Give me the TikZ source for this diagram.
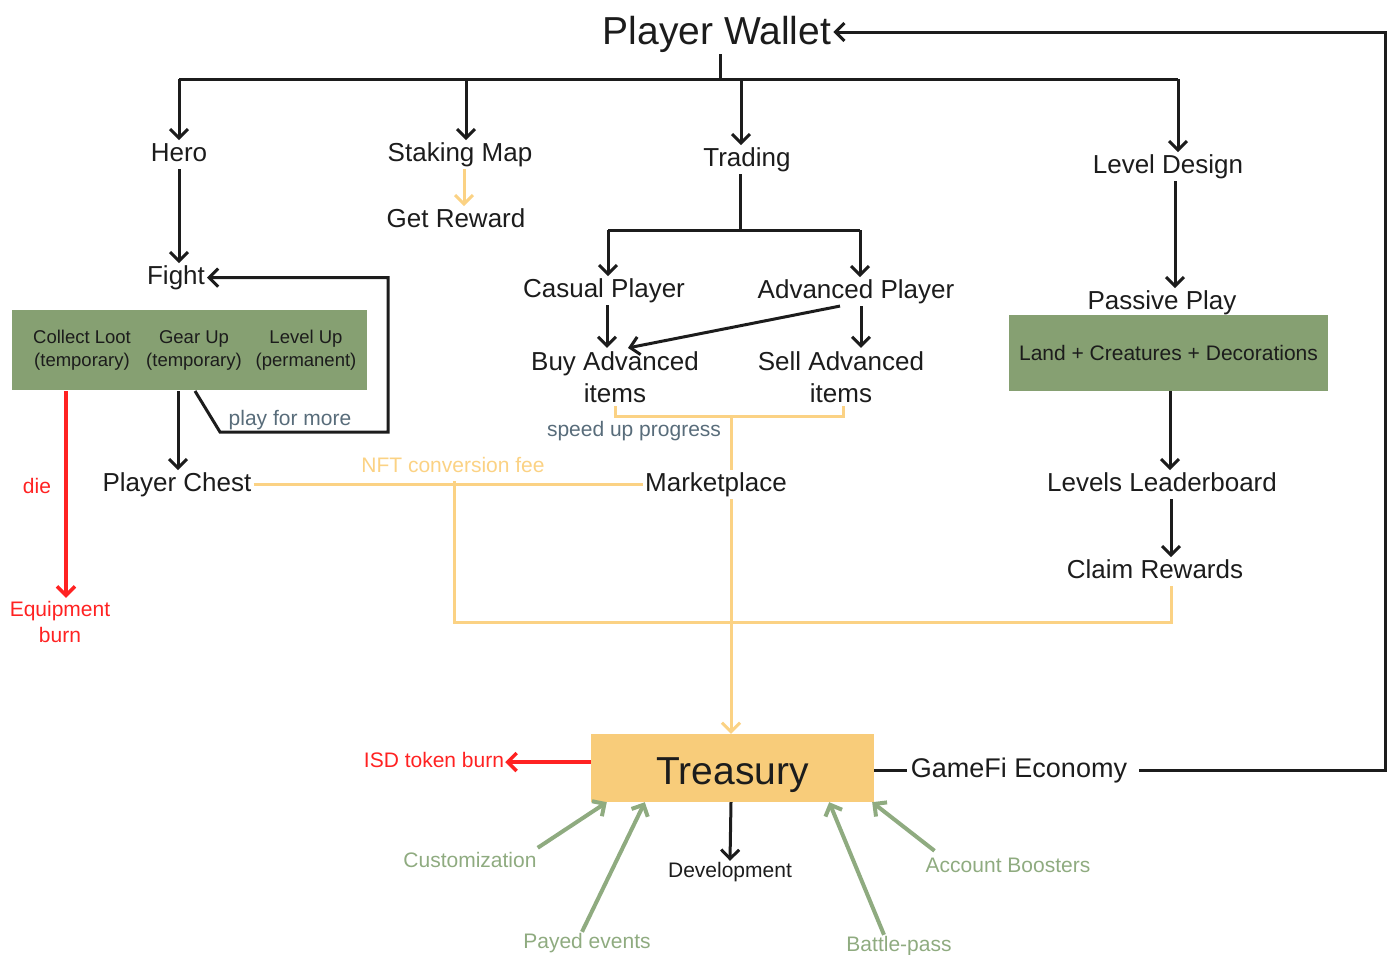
\documentclass[tikz,border=0pt]{standalone}
\usepackage{fontspec}
\setmainfont{Liberation Sans}
\usetikzlibrary{arrows.meta}
\definecolor{ink}{RGB}{28,28,28}
\definecolor{gold}{RGB}{251,210,132}
\definecolor{goldfill}{RGB}{248,204,122}
\definecolor{moss}{RGB}{134,160,114}
\definecolor{sage}{RGB}{143,171,128}
\definecolor{slate}{RGB}{88,108,122}
\definecolor{burn}{RGB}{255,34,34}
\newcommand*{\bigfs}{\fontsize{39}{44}\selectfont}
\newcommand*{\midfs}{\fontsize{26}{32}\selectfont}
\newcommand*{\smlfs}{\fontsize{21}{26}\selectfont}
\newcommand*{\boxfs}{\fontsize{18.5}{23}\selectfont}

\begin{document}
\begin{tikzpicture}[x=1pt, y=-1pt, font=\midfs, text=ink,
    wire/.style     = {draw=ink, line width=3pt},
    flow/.style     = {wire, -{Straight Barb[length=9pt, width=18pt]}},
    goldline/.style = {draw=gold, line width=3pt},
    goldflow/.style = {goldline, -{Straight Barb[length=9pt, width=18pt]}},
    sageflow/.style = {draw=sage, line width=4pt, -{Straight Barb[length=9pt, width=18pt]}},
    burnflow/.style = {draw=burn, line width=3.5pt, -{Straight Barb[length=9pt, width=18pt]}},
    headline/.style = {inner sep=2pt, font=\bigfs, text height=28pt, text depth=8pt, yshift=-4pt},
    tag/.style      = {inner sep=2pt, text height=19pt, text depth=5.5pt, yshift=-2.6pt},
    note/.style     = {inner sep=1pt, font=\smlfs, text height=15.5pt, text depth=4.5pt, yshift=-2pt},
    panel/.style    = {fill=moss, draw=none, inner sep=0pt}]
    \useasboundingbox (0,0) rectangle (1392,954);

    % wallet and the four branches
    \node [headline] (wallet) at (717,30) {Player Wallet};
    \node [tag] (hero)    at (179,152) {Hero};
    \node [tag] (staking) at (460,152) {Staking Map};
    \node [tag] (trading) at (747,157) {Trading};
    \node [tag] (level)   at (1168,164) {Level Design};
    \coordinate (spine)   at (720,79);
    \coordinate (toHero)  at (179,79);
    \coordinate (toStake) at (466,79);
    \coordinate (toTrade) at (741,79);
    \coordinate (toLevel) at (1178,79);
    \draw [wire] (wallet.south -| spine) -- (spine);
    \draw [wire] (toHero) -- (toLevel);
    \draw [flow] (toHero)  -- (toHero  |- hero.north);
    \draw [flow] (toStake) -- (toStake |- staking.north);
    \draw [flow] (toTrade) -- (toTrade |- trading.north);
    \draw [flow] (toLevel) -- (toLevel |- level.north);

    % hero side
    \node [tag] (fight) at (176,275) {Fight};
    \node [panel, minimum width=355pt, minimum height=80pt] (gearbox) at (189.5,350) {};
    \node [font=\boxfs, align=center] (collect) at (82,350)  {Collect Loot\\(temporary)};
    \node [font=\boxfs, align=center] (gearup)  at (194,350) {Gear Up\\(temporary)};
    \node [font=\boxfs, align=center] (levelup) at (306,350) {Level Up\\(permanent)};
    \node [tag] (chest) at (177,482) {Player Chest};
    \node [note, text=slate] (more) at (290,418) {play for more};
    \node [note, text=burn] (die) at (37,486) {die};
    \node [font=\smlfs, text=burn, align=center] (equip) at (60,622) {Equipment\\burn};
    \draw [flow] (hero.south) -- (hero.south |- fight.north);
    \coordinate (loopS) at (195,391);
    \coordinate (loopA) at (220,432);
    \coordinate (loopB) at (388,432);
    \draw [flow] (loopS) -- (loopA) -- (loopB) |- (fight.east);
    \coordinate (chestS) at (178,391);
    \draw [flow] (chestS) -- (chestS |- chest.north);
    \coordinate (dieS) at (66,391);
    \draw [burnflow] (dieS) -- (dieS |- equip.north);

    % staking
    \node [tag] (reward) at (456,218) {Get Reward};
    \draw [goldflow] ([xshift=4pt]staking.south) -- ([xshift=8pt]reward.north);

    % trading
    \node [tag] (casual) at (604,288) {Casual Player};
    \node [tag] (adv)    at (856,289) {Advanced Player};
    \node [align=center] (buy)  at (615,377) {Buy Advanced\\items};
    \node [align=center] (sell) at (841,377) {Sell Advanced\\items};
    \coordinate (tradeHub) at (740,230);
    \coordinate (toCasual) at (608,230);
    \coordinate (toAdv)    at (860,230);
    \draw [wire] (tradeHub |- trading.south) -- (tradeHub);
    \draw [wire] (toCasual) -- (toAdv);
    \draw [flow] (toCasual) -- (toCasual |- casual.north);
    \draw [flow] (toAdv) -- (toAdv |- adv.north);
    \draw [flow] ([xshift=3pt]casual.south) -- ([xshift=-8pt]buy.north);
    \draw [flow] ([xshift=-16pt]adv.south) -- ([xshift=13pt]buy.north);
    \draw [flow] ([xshift=5pt]adv.south) -- ([xshift=20pt]sell.north);

    % marketplace
    \node [tag] (market) at (716,482) {Marketplace};
    \node [note, text=slate] (speed) at (634,429) {speed up progress};
    \node [note, text=gold] (fee) at (453,465) {NFT conversion fee};
    \coordinate (buyFoot)    at (615,416);
    \coordinate (sellFoot)   at (843,416);
    \coordinate (bracketMid) at (731,416);
    \draw [goldline] (buy.south) -- (buyFoot) -- (sellFoot) -- (sellFoot |- sell.south);
    \draw [goldline] (bracketMid) -- (bracketMid |- market.north);
    \draw [goldline] (chest.east) -- (market.west);

    % level design
    \node [tag] (passive) at (1162,300) {Passive Play};
    \node [panel, minimum width=319pt, minimum height=76pt, font=\smlfs] (landbox) at (1168.5,353) {Land + Creatures + Decorations};
    \node [tag] (leader) at (1162,482) {Levels Leaderboard};
    \node [tag] (claim)  at (1155,569) {Claim Rewards};
    \draw [flow] ([xshift=7pt]level.south) -- ([xshift=13pt]passive.north);
    \draw [flow] ([xshift=1.5pt]landbox.south) -- ([xshift=8pt]leader.north);
    \draw [flow] ([xshift=9pt]leader.south) -- ([xshift=16pt]claim.north);

    % treasury
    \node [fill=goldfill, minimum width=283pt, minimum height=68pt, inner sep=0pt, font=\bigfs] (treasury) at (732.5,768) {\raisebox{-16pt}[0pt][0pt]{Treasury}};
    \node [tag, font=\fontsize{27}{32}\selectfont, inner xsep=4pt] (ecofi) at (1019,768) {GameFi Economy};
    \node [note, text=burn] (isd) at (434,760) {ISD token burn};
    \node [note] (dev) at (730,870) {Development};
    \node [note, text=sage] (custom) at (470,860) {Customization};
    \node [note, text=sage] (payed)  at (587,941) {Payed events};
    \node [note, text=sage] (battle) at (899,944) {Battle-pass};
    \node [note, text=sage] (boost)  at (1008,865) {Account Boosters};
    \coordinate (feeJoin)  at (454,481);
    \coordinate (feeLow)   at (454,622);
    \coordinate (claimLow) at (1171,622);
    \draw [goldline] (feeJoin) -- (feeLow) -- (claimLow) -- (claimLow |- claim.south);
    \draw [goldflow] (market.south -| bracketMid) -- (bracketMid |- treasury.north);
    \draw [burnflow] (treasury.west |- isd.east) -- (isd.east);
    \draw [wire] (treasury.east |- ecofi.west) -- (ecofi.west);
    \coordinate (rim) at (1385,768);
    \draw [flow, shorten <=8pt] (ecofi.east) -- (ecofi.east -| rim) |- ([yshift=2pt]wallet.east);
    \draw [flow] ([xshift=-1.5pt]treasury.south) -- (dev.north);
    \draw [sageflow] ([yshift=3pt]custom.north east) -- ([xshift=16pt]treasury.south west);
    \draw [sageflow] ([xshift=-5pt]payed.north) -- ([xshift=54pt]treasury.south west);
    \draw [sageflow] ([xshift=-15pt]battle.north) -- ([xshift=-45pt]treasury.south east);
    \draw [sageflow] ([xshift=10pt, yshift=5pt]boost.north west) -- ([xshift=-2pt]treasury.south east);
\end{tikzpicture}
\end{document}
